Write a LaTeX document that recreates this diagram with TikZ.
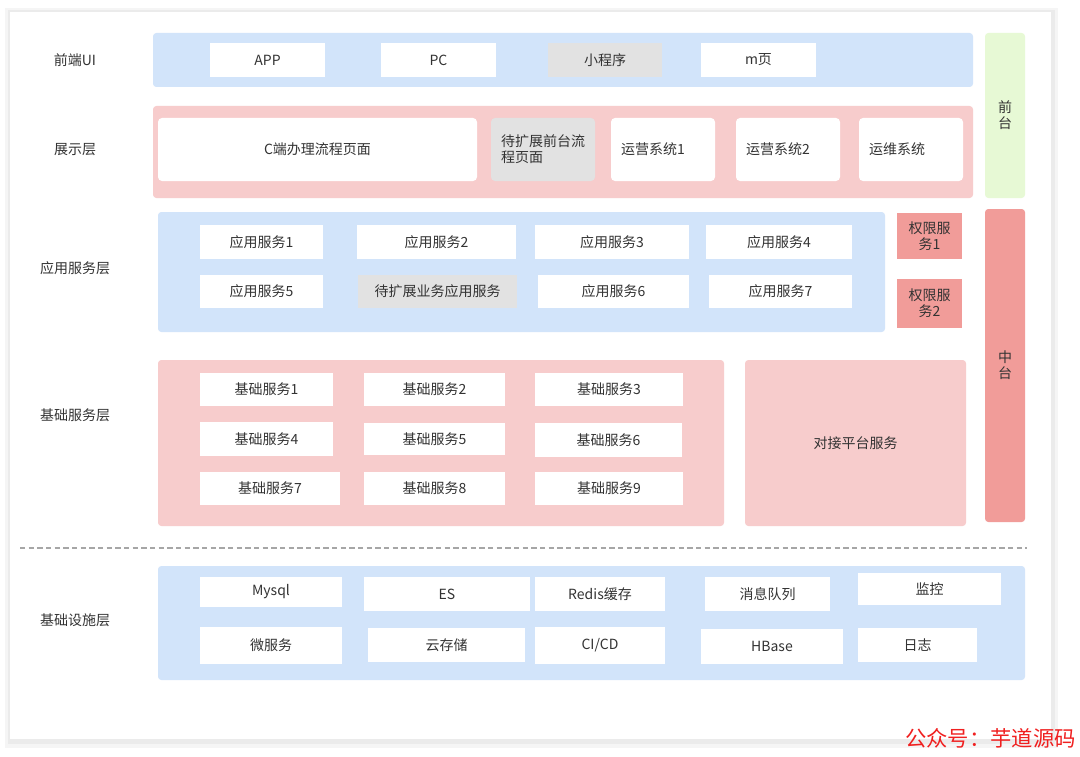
\documentclass[tikz,border=0pt]{standalone}
\usepackage{fontspec}
\setmainfont{Noto Sans CJK SC}
\definecolor{txt}{HTML}{333333}
\definecolor{bluebg}{HTML}{D2E4FA}
\definecolor{pinkbg}{HTML}{F7CCCC}
\definecolor{graybx}{HTML}{E2E2E2}
\definecolor{greenbg}{HTML}{E7F9D5}
\definecolor{redbg}{HTML}{F19C99}
\definecolor{wm}{HTML}{F02020}
\newcommand\mkbox[7]{\node[#1, minimum width={(#5-#3)*0.75pt}, minimum height={(#6-#4)*0.75pt}] (#2) at ({(#3+#5)/2},{(#4+#6)/2}) {#7};}
\tikzset{
  base/.style={inner sep=0pt, outer sep=0pt, text=txt, font=\fontsize{10.5pt}{12pt}\selectfont, align=center},
  band/.style={base, rounded corners=2.5pt},
  bluebandstyle/.style={band, fill=bluebg},
  pinkbandstyle/.style={band, fill=pinkbg},
  wbox/.style={base, fill=white},
  gbox/.style={base, fill=graybx},
  rwbox/.style={base, fill=white, rounded corners=3pt},
  rgbox/.style={base, fill=graybx, rounded corners=3pt},
  leftpad/.style={text width=84*0.75pt, align=left},
  layerlabel/.style={base},
}
\begin{document}
\begin{tikzpicture}[x=0.75pt,y=-0.75pt]
\useasboundingbox (0,0) rectangle (1080,756);
\fill[white] (0,0) rectangle (1080,756);
% frame with shadow
\fill[black!4] (5,8) rectangle (1058,748);
\fill[black!8] (8,10) rectangle (1055,744);
\fill[white] (10,12) rectangle (1051,739);

% layer labels
\node[layerlabel] (l1) at (75,60) {前端UI};
\node[layerlabel] (l2) at (75,150) {展示层};
\node[layerlabel] (l3) at (75,268) {应用服务层};
\node[layerlabel] (l4) at (75,415) {基础服务层};
\node[layerlabel] (l5) at (75,620) {基础设施层};

% right side columns
\mkbox{band, fill=greenbg}{qt}{985}{33}{1025}{198}{前\\台}
\mkbox{band, fill=redbg}{zt}{985}{209}{1025}{522}{中\\台}

% front-end UI
\mkbox{bluebandstyle}{b1}{153}{33}{973}{87}{}
\mkbox{wbox}{app}{210}{43}{325}{77}{APP}
\mkbox{wbox}{pc}{381}{43}{496}{77}{PC}
\mkbox{gbox}{xcx}{548}{43}{662}{77}{小程序}
\mkbox{wbox}{mp}{701}{43}{816}{77}{m页}

% presentation layer
\mkbox{pinkbandstyle}{b2}{153}{106}{973}{198}{}
\mkbox{rwbox}{cpage}{158}{118}{477}{181}{C端办理流程页面}
\mkbox{rgbox, leftpad}{dkz}{491}{118}{595}{181}{待扩展前台流\\程页面}
\mkbox{rwbox, leftpad}{yy1}{611}{118}{715}{181}{运营系统1}
\mkbox{rwbox, leftpad}{yy2}{736}{118}{840}{181}{运营系统2}
\mkbox{rwbox, leftpad}{yw}{859}{118}{963}{181}{运维系统}

% application services
\mkbox{bluebandstyle}{b3}{158}{212}{885}{332}{}
\mkbox{wbox}{a1}{200}{225}{323}{259}{应用服务1}
\mkbox{wbox}{a2}{357}{225}{516}{259}{应用服务2}
\mkbox{wbox}{a3}{535}{225}{689}{259}{应用服务3}
\mkbox{wbox}{a4}{706}{225}{852}{259}{应用服务4}
\mkbox{wbox}{a5}{200}{275}{323}{308}{应用服务5}
\mkbox{gbox}{ax}{358}{275}{517}{308}{待扩展业务应用服务}
\mkbox{wbox}{a6}{538}{275}{689}{308}{应用服务6}
\mkbox{wbox}{a7}{709}{275}{852}{308}{应用服务7}
\mkbox{base, fill=redbg}{qx1}{897}{213}{962}{259}{权限服\\务1}
\mkbox{base, fill=redbg}{qx2}{897}{279}{962}{328}{权限服\\务2}

% basic services
\mkbox{pinkbandstyle}{b4}{158}{360}{724}{526}{}
\mkbox{wbox}{j1}{200}{373}{333}{406}{基础服务1}
\mkbox{wbox}{j2}{364}{373}{505}{406}{基础服务2}
\mkbox{wbox}{j3}{535}{373}{683}{406}{基础服务3}
\mkbox{wbox}{j4}{200}{422}{333}{456}{基础服务4}
\mkbox{wbox}{j5}{364}{423}{505}{455}{基础服务5}
\mkbox{wbox}{j6}{535}{423}{682}{457}{基础服务6}
\mkbox{wbox}{j7}{200}{472}{340}{505}{基础服务7}
\mkbox{wbox}{j8}{364}{472}{505}{505}{基础服务8}
\mkbox{wbox}{j9}{535}{472}{683}{505}{基础服务9}
\mkbox{pinkbandstyle}{djpt}{745}{360}{966}{526}{对接平台服务}

% dashed separator
\coordinate (dl) at (20,548);
\coordinate (dr) at (1027,548);
\draw[black!35, line width=0.8pt, dash pattern=on 4pt off 2.5pt] (dl) -- (dr);

% infrastructure
\mkbox{bluebandstyle}{b5}{158}{566}{1025}{680}{}
\mkbox{wbox}{mysql}{200}{577}{342}{607}{Mysql}
\mkbox{wbox}{es}{364}{577}{530}{611}{ES}
\mkbox{wbox}{redis}{535}{577}{665}{611}{Redis缓存}
\mkbox{wbox}{mq}{705}{577}{830}{611}{消息队列}
\mkbox{wbox}{jk}{858}{573}{1001}{605}{监控}
\mkbox{wbox}{wfw}{200}{627}{342}{664}{微服务}
\mkbox{wbox}{ycc}{368}{628}{525}{662}{云存储}
\mkbox{wbox}{cicd}{535}{627}{665}{664}{CI/CD}
\mkbox{wbox}{hbase}{701}{629}{843}{664}{HBase}
\mkbox{wbox}{rz}{858}{628}{977}{662}{日志}

% watermark
\node[inner sep=0pt, text=wm, font=\fontsize{16pt}{18pt}\selectfont, anchor=east] (wmk) at (1076,738) {公众号：芋道源码};
\end{tikzpicture}
\end{document}
